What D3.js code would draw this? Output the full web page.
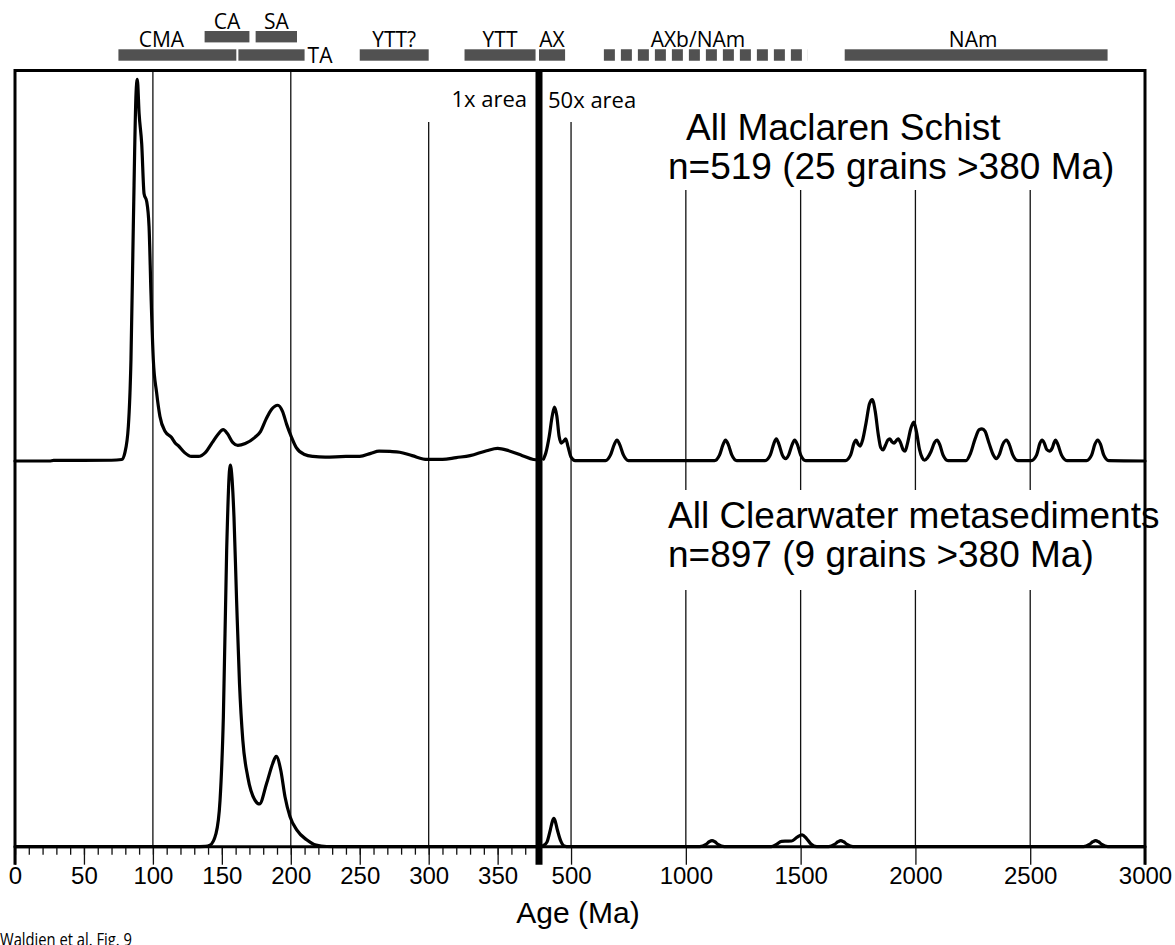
<!DOCTYPE html>
<html>
<head>
<meta charset="utf-8">
<script src="https://cdn.jsdelivr.net/npm/d3@7"></script>
<style>
  body { margin: 0; background: #fff; }
  svg { display: block; }
</style>
</head>
<body>
<svg id="chart" width="1175" height="945"></svg>
<script>
// ---- Probability density curves (relative probability, tallest peak = 100) ----
// Maclaren Schist, 0–380 Ma (true area)
const maclarenYoung = [
  [0,0],[25,0],[28,0.15],[70,0.2],[77.4,0.4],[79.7,2.2],[82.2,9.1],[84.1,26.6],[85.8,61.5],
  [87.8,96.5],[88.7,100],[90,91],[91.9,83],[93.6,70],[95.5,68],[97.2,61.5],[98.6,44],
  [100.3,26.6],[102.7,17.9],[105.1,11.7],[108.8,7.8],[113.4,6.2],[116,4.8],[119,3.8],
  [123,2.2],[128,1.2],[133,1.2],[138,2.2],[143,4.8],[147,6.9],[151,8.2],[154,7.2],[158,4.8],
  [161.6,4.1],[167,4.6],[174,6.2],[178,7.7],[182,10.9],[186,13.5],[190.6,14.6],[194,13],
  [197,9.6],[200,6.7],[204,3.5],[210,1.7],[216,1.2],[225,1.0],[240,1.2],[250,1.2],[258,2.0],
  [264,2.6],[272,2.5],[279,2.3],[288,1.4],[299,0.4],[310,0.4],[320,0.9],[330,1.4],[342,2.7],
  [350,3.3],[358,2.7],[368,1.4],[376,0.4],[380,0.3]
];
// Maclaren Schist, 380–3000 Ma (area x50)
const maclarenOld = [
  [380,0.5],[390,2.1],[405,6.5],[418,11.8],[428,14.1],[438,11.8],[448,6.5],[458,4.7],[468,5.2],
  [477,5.8],[487,3.7],[500,1.0],[518,0.1],
  [650,0.1],[672,1.6],[688,4.3],[700,5.5],[712,4.3],[728,1.6],[750,0.1],
  [1125,0.1],[1147,1.6],[1162,4.3],[1173,5.5],[1185,4.3],[1200,1.6],[1222,0.1],
  [1345,0.1],[1368,1.6],[1383,4.5],[1394,5.8],[1406,4.3],[1420,1.6],[1435,0.6],[1448,1.6],
  [1463,4.3],[1474,5.5],[1486,4.3],[1500,1.6],[1522,0.1],
  [1695,0.1],[1718,1.6],[1732,4.6],[1741,5.5],[1751,4.4],[1759,3.9],[1770,5.5],[1785,10],
  [1800,15],[1812,16.1],[1825,13],[1838,7],[1849,3.5],[1859,2.9],[1870,4.2],[1880,5.5],
  [1889,5.8],[1898,5],[1907,4.7],[1916,5.3],[1925,5.8],[1935,4.8],[1946,3],[1955,2.6],
  [1965,4.5],[1980,8.5],[1993,10.2],[2005,7.5],[2018,3],[2030,0.8],[2040,0.2],[2052,0.8],
  [2068,2.5],[2083,4.8],[2094,5.5],[2106,4.3],[2120,1.6],[2142,0.1],
  [2220,0.1],[2240,2],[2260,5.8],[2278,8.2],[2290,8.4],[2303,7.8],[2320,4.8],[2340,1.5],
  [2352,0.6],[2365,1.6],[2380,4.3],[2397,5.5],[2409,4.3],[2424,1.6],[2446,0.1],
  [2505,0.1],[2528,1.6],[2542,4.6],[2552,5.5],[2562,4.6],[2572,3],[2584,2.6],[2596,3.4],
  [2604,4.8],[2610,5.5],[2620,4.4],[2636,1.6],[2660,0.1],
  [2745,0.1],[2768,1.6],[2782,4.4],[2794,5.5],[2806,4.4],[2820,1.6],[2842,0.1],[3000,0]
];
// Clearwater metasediments, 0–380 Ma (true area)
const clearwaterYoung = [
  [0,0],[130,0],[138,0.1],[141.4,0.4],[145.8,3.5],[148.7,12.2],[151.1,34],[153.5,77.7],
  [156.1,100],[158.8,86.4],[160.7,64.5],[162.8,42.8],[165.2,27.9],[168.8,18.3],[174,12.2],
  [177.3,11.2],[182.5,16.6],[186.9,21.8],[189.4,23.7],[192.7,20.1],[195.8,13.1],[199.4,7.9],
  [204.3,4.4],[211.5,1.8],[218.4,0.4],[226,0.05],[240,0],[380,0]
];
// Clearwater metasediments, 380–3000 Ma (area x50)
const clearwaterOld = [
  [380,0.3],[395,1.2],[410,4.5],[418,6.5],[425,7.4],[432,6.5],[440,4.5],[455,1.5],[470,0.2],[490,0],
  [1060,0],[1088,0.6],[1102,1.3],[1114,1.6],[1126,1.3],[1140,0.6],[1168,0],
  [1372,0],[1395,0.6],[1417,1.4],[1440,1.45],[1461,1.5],[1485,2.5],[1506,3.1],[1525,2.2],
  [1545,0.7],[1570,0],
  [1622,0],[1648,0.6],[1663,1.3],[1675,1.6],[1687,1.3],[1702,0.6],[1728,0],
  [2732,0],[2758,0.6],[2773,1.3],[2785,1.6],[2797,1.3],[2812,0.6],[2838,0],[3000,0]
];

// ---- Source terranes / age ranges shown above the plot ----
const unitNames = ["CMA", "TA", "CA", "SA", "YTT?", "YTT", "AX", "AXb/NAm", "NAm"];
const unitStart = [75, 162, 137.5, 174.5, 250, 326, 380, 643, 1692];
const unitEnd   = [160.5, 210, 170, 204.5, 300, 377.5, 474, 1532, 2837];
const unitDashed = [false, false, false, false, false, false, false, true, false];

// ---- Axis ticks ----
const youngMajorTicks = [0, 50, 100, 150, 200, 250, 300, 350];
const youngMinorTicks = d3.range(0, 380, 10);
const oldTicks = [500, 1000, 1500, 2000, 2500, 3000];

// ---- Panel captions ----
const panelTitles = ["All Maclaren Schist", "All Clearwater metasediments"];
const panelCounts = ["n=519 (25 grains >380 Ma)", "n=897 (9 grains >380 Ma)"];

// ---- Layout ----
const svg = d3.select("#chart");
const frame = { left: 15, right: 1145, top: 70.5, bottom: 846.7 };
const breakAge = 380;

const xYoung = d3.scaleLinear().domain([0, breakAge]).range([frame.left, 539]);
const xOld = d3.scaleLinear().domain([breakAge, 3000]).range([543.5, frame.right]);
const xAge = a => (a <= breakAge ? xYoung(a) : xOld(a));

const yUpper = d3.scaleLinear().domain([0, 100]).range([461, 79.3]);
const yLower = d3.scaleLinear().domain([0, 100]).range([846.7, 465]);

const sansFont = "'Liberation Sans', Arial, Helvetica, sans-serif";
const labelFont = "'Open Sans', 'DejaVu Sans', sans-serif";

// ---- Reference lines ----
const refLines = svg.append("g").attr("stroke", "#111").attr("stroke-width", 1.3);
[100, 200].forEach(a => refLines.append("line")
  .attr("x1", xAge(a)).attr("x2", xAge(a)).attr("y1", frame.top).attr("y2", frame.bottom));
[300, 500].forEach(a => refLines.append("line")
  .attr("x1", xAge(a)).attr("x2", xAge(a)).attr("y1", 122).attr("y2", frame.bottom));
[1000, 1500, 2000, 2500].forEach(a => {
  refLines.append("line").attr("x1", xAge(a)).attr("x2", xAge(a)).attr("y1", 190).attr("y2", 490);
  refLines.append("line").attr("x1", xAge(a)).attr("x2", xAge(a)).attr("y1", 590).attr("y2", frame.bottom);
});

// ---- Curves ----
const curveGroup = svg.append("g")
  .attr("fill", "none").attr("stroke", "#000").attr("stroke-width", 3.2)
  .attr("stroke-linejoin", "round").attr("stroke-linecap", "round");

function drawCurve(data, xs, ys) {
  const line = d3.line().x(d => xs(d[0])).y(d => ys(d[1])).curve(d3.curveMonotoneX);
  curveGroup.append("path").attr("d", line(data));
}
drawCurve(maclarenYoung, xYoung, yUpper);
drawCurve(maclarenOld, xOld, yUpper);
drawCurve(clearwaterYoung, xYoung, yLower);
drawCurve(clearwaterOld, xOld, yLower);

// ---- Axes ----
const axisYoungMinor = d3.axisBottom(xYoung).tickValues(youngMinorTicks).tickSize(8).tickFormat("");
const axisYoungMajor = d3.axisBottom(xYoung).tickValues(youngMajorTicks).tickSize(18)
  .tickPadding(2).tickFormat(d3.format("d"));
const axisOld = d3.axisBottom(xOld).tickValues(oldTicks).tickSize(18)
  .tickPadding(2).tickFormat(d3.format("d"));

function styleAxis(g) {
  g.select(".domain").remove();
  g.selectAll(".tick line").attr("stroke", "#111").attr("stroke-width", 1.3);
  g.selectAll(".tick text").attr("fill", "#000")
    .style("font-family", sansFont).style("font-size", "24px");
}
svg.append("g").attr("transform", `translate(0,${frame.bottom})`).call(axisYoungMinor).call(styleAxis);
svg.append("g").attr("transform", `translate(0,${frame.bottom})`).call(axisYoungMajor).call(styleAxis);
svg.append("g").attr("transform", `translate(0,${frame.bottom})`).call(axisOld).call(styleAxis);

// ---- Frame and scale break ----
const frameG = svg.append("g").attr("stroke", "#000").attr("fill", "none");
frameG.append("line").attr("x1", frame.left).attr("x2", frame.right)
  .attr("y1", frame.top).attr("y2", frame.top).attr("stroke-width", 3);
frameG.append("line").attr("x1", frame.left).attr("x2", frame.right)
  .attr("y1", frame.bottom).attr("y2", frame.bottom).attr("stroke-width", 3);
frameG.append("line").attr("x1", frame.left).attr("x2", frame.left)
  .attr("y1", frame.top - 1.5).attr("y2", frame.bottom + 18).attr("stroke-width", 3);
frameG.append("line").attr("x1", frame.right).attr("x2", frame.right)
  .attr("y1", frame.top - 1.5).attr("y2", frame.bottom + 18).attr("stroke-width", 3);
frameG.append("line").attr("x1", xYoung(breakAge)).attr("x2", xYoung(breakAge))
  .attr("y1", frame.top - 1.5).attr("y2", frame.bottom + 18).attr("stroke-width", 7);

svg.append("text").attr("x", 527).attr("y", 107).attr("text-anchor", "end")
  .style("font-family", labelFont).style("font-size", "22px").text("1x area");
svg.append("text").attr("x", 548).attr("y", 108)
  .style("font-family", labelFont).style("font-size", "22px").text("50x area");

// ---- Panel captions ----
const captionG = svg.append("g").style("font-family", sansFont).style("font-size", "37px");
captionG.append("text").attr("x", 686).attr("y", 140).text(panelTitles[0]);
captionG.append("text").attr("x", 668).attr("y", 179).text(panelCounts[0]);
captionG.append("text").attr("x", 668).attr("y", 528).text(panelTitles[1]);
captionG.append("text").attr("x", 668).attr("y", 567).text(panelCounts[1]);

// ---- Terrane bars ----
// units that overlap one already placed on the lower tier move up a tier
const tiers = [];
unitNames.forEach((n, i) => {
  const clash = tiers.some((t, j) => t === 0 && unitStart[i] < unitEnd[j] && unitEnd[i] > unitStart[j]);
  tiers.push(clash ? 1 : 0);
});
const tierTop = [49.3, 31];
const barH = 11.4;
const labelNudge = { "CMA": -16, "AXb/NAm": -8, "NAm": -3 };
const barColor = "#515151";

const unitG = svg.append("g");
unitNames.forEach((name, i) => {
  const x0 = xAge(unitStart[i]), x1 = xAge(unitEnd[i]);
  const yTop = tierTop[tiers[i]];
  if (unitDashed[i]) {
    unitG.append("line").attr("x1", x0).attr("x2", x1)
      .attr("y1", yTop + barH / 2).attr("y2", yTop + barH / 2)
      .attr("stroke", barColor).attr("stroke-width", barH).attr("stroke-dasharray", "11,6");
  } else {
    unitG.append("rect").attr("x", x0).attr("y", yTop).attr("width", x1 - x0).attr("height", barH)
      .attr("fill", barColor);
  }
  const lbl = unitG.append("text").style("font-family", labelFont).style("font-size", "21px").text(name);
  if (name === "TA") {
    lbl.attr("x", x1 + 3).attr("y", yTop + barH + 2);
  } else {
    lbl.attr("x", (x0 + x1) / 2 + (labelNudge[name] || 0)).attr("y", yTop - 2.5).attr("text-anchor", "middle");
  }
});

// ---- Axis title and credit ----
svg.append("text").attr("x", 578).attr("y", 923).attr("text-anchor", "middle")
  .style("font-family", sansFont).style("font-size", "30px").text("Age (Ma)");
svg.append("text").attr("x", 0).attr("y", 946)
  .attr("textLength", 132).attr("lengthAdjust", "spacingAndGlyphs")
  .style("font-family", labelFont).style("font-size", "19px").text("Waldien et al. Fig. 9");
</script>
</body>
</html>
